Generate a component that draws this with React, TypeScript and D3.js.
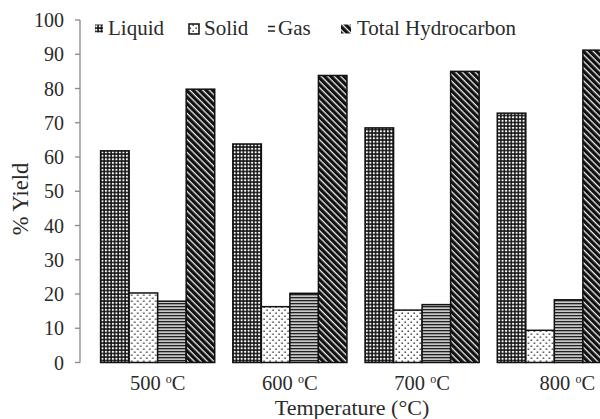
import React from "react";
import * as d3 from "d3";

const categories = ["500", "600", "700", "800"];
const seriesNames = ["Liquid", "Solid", "Gas", "Total Hydrocarbon"];
const liquid = [61.8, 63.8, 68.5, 72.8];
const solid = [20.3, 16.3, 15.3, 9.4];
const gas = [17.9, 20.2, 16.9, 18.3];
const total = [79.8, 83.8, 85.0, 91.2];
const yTicks = [0, 10, 20, 30, 40, 50, 60, 70, 80, 90, 100];

const W = 600;
const H = 419;
const font = "'Liberation Serif', 'Times New Roman', serif";
const FS = 20;
const TXT = "#2a2a2a";

export default function App() {
  const series = [liquid, solid, gas, total];
  const patternIds = ["pLiquid", "pSolid", "pGas", "pTotal"];
  const y = d3.scaleLinear().domain([0, 100]).range([362.5, 20]);
  const x0 = d3.scaleBand().domain(categories).range([94, 618]).paddingInner(0.137).paddingOuter(0.05);
  const x1 = d3.scaleBand().domain(seriesNames).range([0, x0.bandwidth()]);
  const labelShift = (i: number) => (i === categories.length - 1 ? 13 : 0);

  const legendX = [95, 189, 268, 341];
  const legendTextX = [108, 204, 278, 357];

  return (
    <svg width={W} height={H} style={{ position: "absolute", left: 0, top: 0, background: "#fff" }}>
      <defs>
        <pattern id="pLiquid" width={3.5} height={3.5} patternUnits="userSpaceOnUse">
          <rect width={3.5} height={3.5} fill="#111" />
          <rect x={0.8} y={0.8} width={2} height={2} fill="#fff" />
        </pattern>
        <pattern id="pSolid" width={6} height={6} patternUnits="userSpaceOnUse">
          <rect width={6} height={6} fill="#fff" />
          <rect x={0.5} y={0.5} width={1.4} height={1.4} fill="#222" />
          <rect x={3.5} y={3.5} width={1.4} height={1.4} fill="#222" />
        </pattern>
        <pattern id="pGas" width={4} height={3} patternUnits="userSpaceOnUse">
          <rect width={4} height={3} fill="#c8c8c8" />
          <rect y={0} width={4} height={1.3} fill="#222" />
        </pattern>
        <pattern id="pTotal" width={5} height={4.6} patternUnits="userSpaceOnUse" patternTransform="rotate(45)">
          <rect width={5} height={4.6} fill="#111" />
          <rect y={0} width={5} height={1.3} fill="#eee" />
        </pattern>
      </defs>

      {/* y axis */}
      <line x1={80} x2={80} y1={y(100)} y2={y(0)} stroke="#888" strokeWidth={1.3} />
      {yTicks.map((t) => (
        <g key={t}>
          <line x1={75} x2={80} y1={y(t)} y2={y(t)} stroke="#888" strokeWidth={1.3} />
          <text x={64} y={y(t)} dy="0.35em" textAnchor="end" fontFamily={font} fontSize={FS} fill={TXT}>
            {t}
          </text>
        </g>
      ))}

      {/* bars */}
      {categories.map((c, i) => (
        <g key={c} transform={`translate(${x0(c)},0)`}>
          {seriesNames.map((s, j) => (
            <rect
              key={s}
              x={x1(s)}
              y={y(series[j][i])}
              width={x1.bandwidth()}
              height={y(0) - y(series[j][i])}
              fill={`url(#${patternIds[j]})`}
              stroke="#111"
              strokeWidth={1.5}
            />
          ))}
        </g>
      ))}

      {/* category labels */}
      {categories.map((c, i) => (
        <text
          key={c}
          x={(x0(c) as number) + x0.bandwidth() / 2 + labelShift(i)}
          y={390}
          textAnchor="middle"
          fontFamily={font}
          fontSize={20.5}
          fill={TXT}
        >
          {c + " "}
          <tspan fontSize={12} dy={-7}>o</tspan>
          <tspan dy={7}>C</tspan>
        </text>
      ))}

      {/* axis titles */}
      <text x={352} y={415} textAnchor="middle" fontFamily={font} fontSize={22} fill={TXT}>
        Temperature (°C)
      </text>
      <text
        transform={`translate(28,${199}) rotate(-90)`}
        textAnchor="middle"
        fontFamily={font}
        fontSize={22.5}
        fill={TXT}
      >
        % Yield
      </text>

      {/* legend */}
      {seriesNames.map((s, j) => (
        <g key={s}>
          {j === 1 ? (
            <rect x={legendX[j]} y={24} width={10} height={10} fill={`url(#${patternIds[j]})`} stroke="#111" strokeWidth={1.5} />
          ) : j === 2 ? (
            <g>
              <line x1={legendX[j]} x2={legendX[j] + 7} y1={26.5} y2={26.5} stroke="#222" strokeWidth={1.5} />
              <line x1={legendX[j]} x2={legendX[j] + 7} y1={31} y2={31} stroke="#222" strokeWidth={1.5} />
            </g>
          ) : (
            <rect x={legendX[j]} y={24.5} width={j === 0 ? 8 : 10} height={j === 0 ? 8 : 9} fill={`url(#${patternIds[j]})`} />
          )}
          <text x={legendTextX[j]} y={35} fontFamily={font} fontSize={21} fill={TXT}>
            {s}
          </text>
        </g>
      ))}
    </svg>
  );
}
